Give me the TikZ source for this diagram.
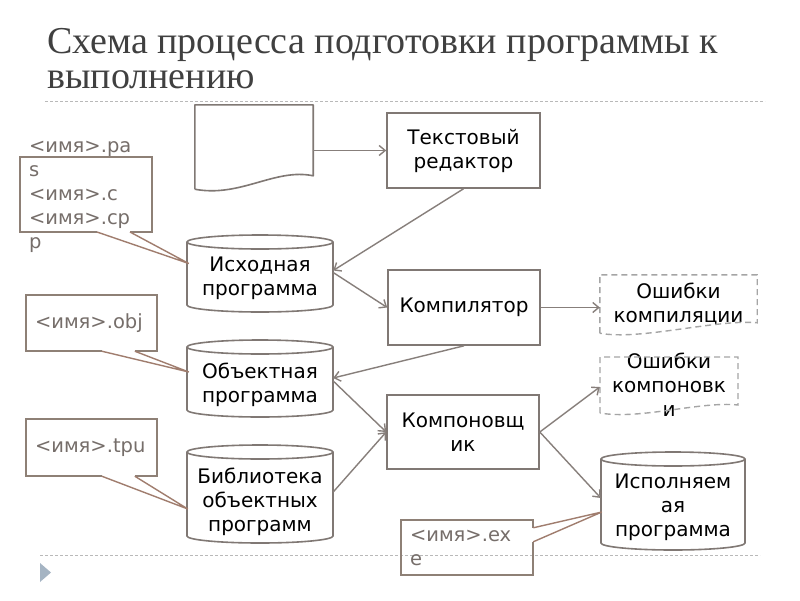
\documentclass[tikz,border=0pt]{standalone}
\usepackage{fontspec}
\setmainfont{DejaVu Sans}
\newfontfamily\ttlfont{Liberation Serif}
\usetikzlibrary{calc,arrows.meta}
\definecolor{boxc}{RGB}{128,120,116}
\definecolor{arrc}{RGB}{135,127,123}
\definecolor{callc}{RGB}{142,128,118}
\definecolor{calltxt}{RGB}{118,110,106}
\definecolor{ptrc}{RGB}{160,125,110}
\definecolor{dashc}{RGB}{165,165,165}
\definecolor{sepc}{RGB}{185,185,185}
\definecolor{ttlc}{RGB}{64,64,64}
\definecolor{tric}{RGB}{165,180,195}
\newcommand\drawcyl[4]{%
  \draw[cylline] ($(#1.center)+(-#4,#2+7)$) -- ($(#1.center)+(-#4,#3-7)$)
    arc[start angle=180,end angle=360,x radius=#4pt,y radius=7pt]
    -- ($(#1.center)+(#4,#2+7)$)
    arc[start angle=0,end angle=180,x radius=#4pt,y radius=7pt] -- cycle;
  \draw[cylline] ($(#1.center)+(-#4,#2+7)$)
    arc[start angle=180,end angle=360,x radius=#4pt,y radius=7pt];}
\begin{document}
\begin{tikzpicture}[x=1pt,y=-1pt,
  txt/.style={font=\fontsize{20}{24}\selectfont, align=center, inner sep=0pt, text=black},
  procbox/.style={txt, draw=boxc, line width=1.6pt, rectangle},
  cylnode/.style={txt, minimum width=146pt},
  cylline/.style={draw=boxc, line width=1.6pt},
  docnode/.style={txt},
  docline/.style={draw=boxc, line width=1.6pt, line join=round},
  errline/.style={draw=dashc, line width=1.4pt, dash pattern=on 6pt off 4pt},
  callnode/.style={font=\fontsize{19.5}{24}\selectfont, text=calltxt, align=left, inner ysep=0pt, inner xsep=9pt},
  callline/.style={draw=callc, line width=1.6pt, line join=miter},
  ptrline/.style={draw=ptrc, line width=1.4pt},
  flow/.style={draw=arrc, line width=1.4pt, -{Straight Barb[length=6pt,width=10pt]}},
  sepline/.style={draw=sepc, line width=0.9pt, dash pattern=on 3pt off 2pt},
]
\useasboundingbox (0,0) rectangle (800,600);
\fill[white] (0,0) rectangle (800,600);

% title
\node[anchor=base west, inner sep=0pt, align=left, font=\ttlfont\fontsize{38}{35}\selectfont, text=ttlc] (ttl) at (47,88) {Схема процесса подготовки программы к\\выполнению};

% separators
\coordinate (s1a) at (45,101); \coordinate (s1b) at (765,101);
\draw[sepline] (s1a) -- (s1b);
\coordinate (s2a) at (40,555); \coordinate (s2b) at (760,555);
\draw[sepline] (s2a) -- (s2b);
\fill[tric] (40,563) -- (51,572.5) -- (40,582) -- cycle;

% document shape (top)
\node[docnode, minimum width=118pt, minimum height=84pt] (doc) at (254,147) {};
\draw[docline] (doc.south west) -- (doc.north west) -- (doc.north east) -- ($(doc.north east)+(0,71)$)
  .. controls ($(doc.north east)+(-38,63)$) and ($(doc.north east)+(-73,93)$) .. (doc.south west);

% process boxes
\node[procbox, minimum width=153pt, minimum height=75pt] (ted) at (463.5,150.5) {Текстовый\\редактор};
\node[procbox, minimum width=152pt, minimum height=75pt] (comp) at (464,307.5) {Компилятор};
\node[procbox, minimum width=152pt, minimum height=74pt] (link) at (463,432) {Компоновщ\\ик};

% cylinders
\node[cylnode] (src) at (260,278.5) {Исходная\\программа};
\drawcyl{src}{-43.5}{33.5}{73}
\node[cylnode] (obj) at (260,385) {Объектная\\программа};
\drawcyl{obj}{-45}{32}{73}
\node[cylnode] (lib) at (260,502) {Библиотека\\объектных\\программ};
\drawcyl{lib}{-57}{41}{73}
\node[cylnode, minimum width=144pt] (exe) at (673,507) {Исполняем\\ая\\программа};
\drawcyl{exe}{-55}{43}{72}

% error documents (dashed)
\node[docnode, minimum width=157pt, minimum height=58pt] (errc) at (678.5,304) {Ошибки\\компиляции};
\draw[errline] (errc.south west) -- (errc.north west) -- (errc.north east) -- ($(errc.north east)+(0,48)$)
  .. controls ($(errc.north east)+(-40,44)$) and ($(errc.north west)+(40,66)$) .. (errc.south west);
\node[docnode, minimum width=138pt] (errl) at (669,385) {Ошибки\\компоновк\\и};
\draw[errline] ($(errl.center)+(-69,28)$) -- ($(errl.center)+(-69,-28)$) -- ($(errl.center)+(69,-28)$) -- ($(errl.center)+(69,20)$)
  .. controls ($(errl.center)+(31,16)$) and ($(errl.center)+(-29,35)$) .. ($(errl.center)+(-69,28)$);

% flows
\draw[flow] (doc.east |- ted.west) -- (ted.west);
\draw[flow] (ted.south) -- ($(src.east)+(0,-8)$);
\draw[flow] ($(src.east)+(0,-6)$) -- (comp.west);
\draw[flow] (comp.east) -- (comp.east -| errc.west);
\draw[flow] (comp.south) -- ($(obj.east)+(0,-7)$);
\draw[flow] ($(obj.east)+(0,-4)$) -- (link.west);
\draw[flow] ($(lib.east)+(0,-10)$) -- (link.west);
\draw[flow] (link.east) -- ($(errl.west)+(0,2)$);
\draw[flow] (link.east) -- ($(exe.west)+(0,-9)$);

% callouts
\node[callnode, text width=114pt] (c1) at (86,196.5) {<имя>.pa\\s\\<имя>.c\\<имя>.cp\\p};
\coordinate (c1a) at ($(c1.center)+(11,35.5)$);
\coordinate (c1b) at ($(c1.center)+(44,35.5)$);
\coordinate (c1t) at ($(src.west)+(2,-15)$);
\draw[callline] (c1a) -- ($(c1.center)+(-66,35.5)$) -- ($(c1.center)+(-66,-39.5)$) -- ($(c1.center)+(66,-39.5)$) -- ($(c1.center)+(66,35.5)$) -- (c1b);
\draw[ptrline] (c1a) -- (c1t) -- (c1b);

\node[callnode, text width=113pt, minimum height=56pt] (c2) at (91.5,323) {<имя>.obj};
\coordinate (c2a) at ($(c2.south west)+(76,0)$);
\coordinate (c2b) at ($(c2.south west)+(109,0)$);
\coordinate (c2t) at ($(obj.west)+(2,-13)$);
\draw[callline] (c2a) -- (c2.south west) -- (c2.north west) -- (c2.north east) -- (c2.south east) -- (c2b);
\draw[ptrline] (c2a) -- (c2t) -- (c2b);

\node[callnode, text width=113pt, minimum height=57pt] (c3) at (91.5,447.5) {<имя>.tpu};
\coordinate (c3a) at ($(c3.south west)+(76,0)$);
\coordinate (c3b) at ($(c3.south west)+(109,0)$);
\coordinate (c3t) at ($(lib.west)+(1,7)$);
\draw[callline] (c3a) -- (c3.south west) -- (c3.north west) -- (c3.north east) -- (c3.south east) -- (c3b);
\draw[ptrline] (c3a) -- (c3t) -- (c3b);

\node[callnode, text width=114pt, minimum height=55pt] (c4) at (467,547.5) {<имя>.ex\\e};
\coordinate (c4a) at ($(c4.north east)+(0,8)$);
\coordinate (c4b) at ($(c4.north east)+(0,22)$);
\coordinate (c4t) at ($(exe.west)+(1,5)$);
\draw[callline] (c4a) -- (c4.north east) -- (c4.north west) -- (c4.south west) -- (c4.south east) -- (c4b);
\draw[ptrline] (c4a) -- (c4t) -- (c4b);
\end{tikzpicture}
\end{document}
